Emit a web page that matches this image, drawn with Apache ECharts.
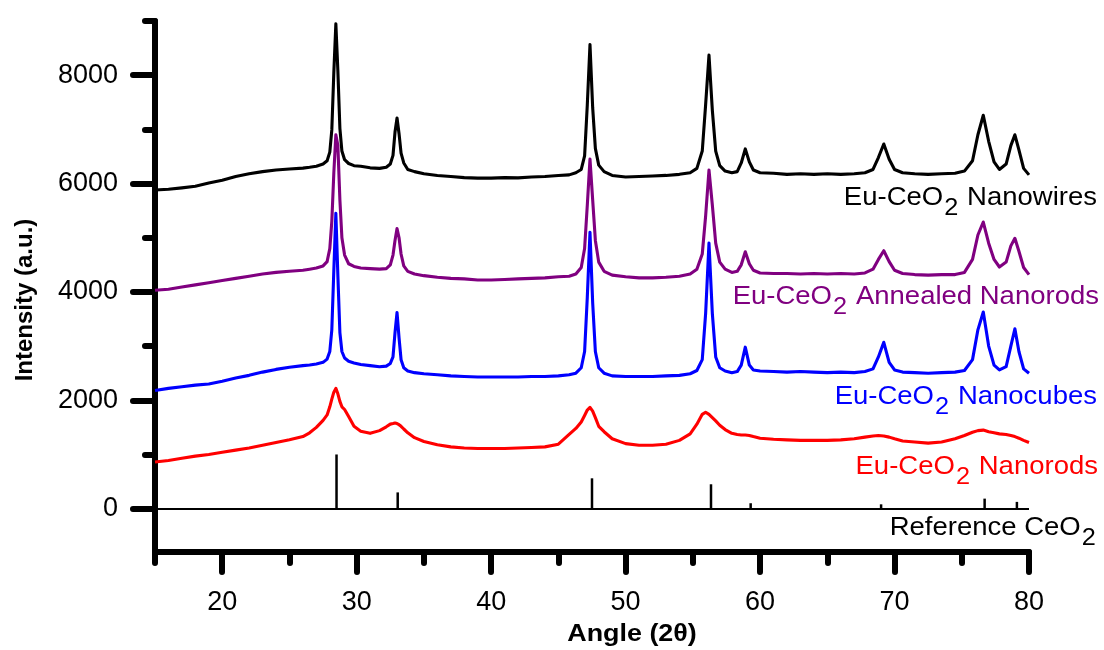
<!DOCTYPE html>
<html>
<head>
<meta charset="utf-8">
<script src="https://cdn.jsdelivr.net/npm/echarts@6/dist/echarts.min.js"></script>
<style>
html,body{margin:0;padding:0;background:#fff;}
#chart{width:1104px;height:650px;}
</style>
</head>
<body>
<div id="chart"></div>
<script>
// ---- data ----
const angles = [15,16,17,18,19,20,21,22,23,24,25,26,26.5,27,27.5,27.8,28.0,28.15,28.3,28.45,28.6,28.75,28.9,29.1,29.4,29.8,30.3,31,31.7,32.2,32.5,32.7,32.85,33.0,33.15,33.3,33.5,33.8,34.3,35,36,37,38,39,40,41,42,43,44,45,45.8,46.3,46.7,46.95,47.15,47.35,47.55,47.75,48.0,48.4,49,50,51,52,53,54,54.8,55.3,55.7,55.95,56.2,56.45,56.7,57.0,57.4,57.9,58.3,58.6,58.9,59.2,59.5,60,61,62,63,64,65,66,67,67.8,68.4,68.8,69.2,69.6,70.0,70.6,71.5,72.5,73.5,74.5,75.2,75.8,76.2,76.6,77.0,77.4,77.8,78.3,78.65,78.95,79.25,79.6,80];

const nanowires = [5880,5895,5920,5950,6010,6060,6130,6180,6220,6250,6270,6285,6300,6320,6360,6420,6580,6990,8050,8950,8080,7020,6600,6440,6370,6330,6320,6290,6280,6300,6360,6520,6950,7210,6920,6560,6380,6260,6220,6180,6150,6130,6110,6100,6100,6110,6105,6120,6130,6150,6160,6200,6260,6510,7450,8565,7400,6650,6340,6220,6150,6120,6130,6140,6150,6170,6200,6280,6600,7450,8370,7350,6600,6330,6230,6200,6220,6380,6640,6400,6250,6200,6190,6170,6180,6170,6180,6170,6180,6200,6260,6480,6730,6450,6260,6200,6180,6170,6180,6190,6230,6420,6900,7260,6780,6400,6260,6360,6700,6900,6620,6280,6160];

const annealed = [4030,4050,4090,4130,4170,4210,4250,4290,4330,4360,4380,4400,4420,4440,4480,4560,4800,5300,6200,6900,6700,5700,5000,4680,4520,4470,4440,4430,4420,4430,4500,4680,4950,5170,5000,4700,4480,4380,4330,4300,4270,4250,4240,4220,4220,4230,4240,4250,4260,4280,4290,4330,4450,4800,5600,6450,5700,4950,4550,4380,4310,4280,4260,4260,4270,4290,4330,4420,4700,5400,6250,5600,4900,4550,4420,4360,4380,4500,4740,4520,4400,4350,4340,4340,4330,4340,4330,4340,4330,4350,4420,4600,4760,4560,4400,4340,4320,4310,4320,4320,4360,4600,5050,5290,4900,4600,4460,4550,4850,4990,4750,4450,4320];

const nanocubes = [2180,2220,2250,2280,2300,2350,2410,2460,2520,2570,2610,2640,2650,2670,2700,2760,2900,3300,4400,5450,4300,3250,2900,2780,2720,2690,2660,2640,2620,2630,2680,2800,3250,3620,3150,2750,2600,2540,2510,2490,2470,2450,2440,2430,2430,2430,2430,2440,2440,2450,2470,2500,2600,2900,3900,5100,3800,2900,2600,2500,2450,2440,2440,2440,2450,2460,2490,2550,2750,3600,4900,3600,2800,2600,2540,2510,2530,2650,2980,2650,2560,2540,2530,2520,2530,2520,2510,2520,2510,2530,2580,2800,3070,2700,2560,2520,2510,2500,2510,2520,2550,2750,3300,3630,3000,2650,2560,2620,3000,3320,2900,2580,2500];

const nanorods = [860,890,930,970,1000,1040,1080,1120,1170,1220,1270,1330,1400,1500,1630,1730,1880,2020,2150,2220,2120,1980,1880,1830,1700,1520,1430,1390,1440,1510,1560,1570,1580,1570,1550,1520,1470,1400,1310,1240,1180,1140,1120,1110,1110,1110,1120,1130,1140,1190,1370,1480,1600,1720,1820,1870,1800,1680,1520,1420,1290,1200,1170,1170,1190,1260,1380,1560,1740,1780,1740,1680,1620,1540,1460,1390,1370,1360,1360,1350,1330,1300,1280,1270,1260,1260,1260,1270,1290,1320,1340,1350,1340,1320,1290,1250,1230,1210,1230,1290,1350,1410,1440,1450,1420,1400,1380,1370,1350,1330,1300,1260,1220];

const refAngles  = [28.5, 33.05, 47.5, 56.35, 59.3, 69.0, 76.7, 79.1];
const refHeights = [1000, 300, 560, 450, 100, 80, 185, 125];

const yMajorTicks = [0, 2000, 4000, 6000, 8000];
const yMinorTicks = [1000, 3000, 5000, 7000, 9000];
const xMajorTicks = [20, 30, 40, 50, 60, 70, 80];
const xMinorTicks = [15, 25, 35, 45, 55, 65, 75];

// ---- chart ----
const FONT = "'Liberation Sans', Arial, sans-serif";
const pair = v => angles.map((a, i) => [a, v[i]]);
const chart = echarts.init(document.getElementById('chart'), null, {renderer: 'canvas'});

const gridBox = {left: 155, right: 75, top: 21, bottom: 98};

function lineSeries(name, vals, color) {
  return {
    name, type: 'line', data: pair(vals), showSymbol: false, symbol: 'none',
    xAxisIndex: 0, yAxisIndex: 0,
    lineStyle: {color, width: 3.1, join: 'round'}, itemStyle: {color}, z: 3, silent: true
  };
}

function labelText(x, y, main, tail, color) {
  return {
    type: 'text', x, y, z: 10, silent: true, scaleX: 1.1, originX: 0,
    style: {
      text: '{a|' + main + '}{s|2}{a|' + tail + '}',
      align: 'right', verticalAlign: 'top',
      fill: color,
      rich: {
        a: {fontSize: 25, fontFamily: FONT, fill: color, verticalAlign: 'top', lineHeight: 26},
        s: {fontSize: 23, fontFamily: FONT, fill: color, verticalAlign: 'top', lineHeight: 26, padding: [11, 1, 0, 1]}
      }
    }
  };
}

const plain = v => String(v);

const option = {
  animation: false,
  backgroundColor: '#fff',
  grid: [
    Object.assign({}, gridBox),
    Object.assign({}, gridBox)
  ],
  xAxis: [
    {
      type: 'value', gridIndex: 0, min: 15, max: 80, position: 'bottom',
      axisLine: {show: true, onZero: false, lineStyle: {color: '#000', width: 6, cap: 'round'}},
      axisTick: {show: true, customValues: xMajorTicks, length: 20, inside: false,
                 lineStyle: {color: '#000', width: 6, cap: 'round'}},
      axisLabel: {show: true, customValues: xMajorTicks, formatter: plain, fontSize: 27, fontFamily: FONT, color: '#000', margin: 37},
      splitLine: {show: false}
    },
    {
      type: 'value', gridIndex: 1, min: 15, max: 80, position: 'bottom',
      axisLine: {show: false, onZero: false},
      axisTick: {show: true, customValues: xMinorTicks, length: 11, inside: false,
                 lineStyle: {color: '#000', width: 6, cap: 'round'}},
      axisLabel: {show: false},
      splitLine: {show: false}
    }
  ],
  yAxis: [
    {
      type: 'value', gridIndex: 0, min: -800, max: 9000, position: 'left',
      axisLine: {show: true, onZero: false, lineStyle: {color: '#000', width: 6, cap: 'round'}},
      axisTick: {show: true, customValues: yMajorTicks, length: 22, inside: false,
                 lineStyle: {color: '#000', width: 6, cap: 'round'}},
      axisLabel: {show: true, customValues: yMajorTicks, formatter: plain, fontSize: 27, fontFamily: FONT, color: '#000', margin: 37},
      splitLine: {show: false}
    },
    {
      type: 'value', gridIndex: 1, min: -800, max: 9000, position: 'left',
      axisLine: {show: false, onZero: false},
      axisTick: {show: true, customValues: yMinorTicks, length: 10, inside: false,
                 lineStyle: {color: '#000', width: 6, cap: 'round'}},
      axisLabel: {show: false},
      splitLine: {show: false}
    }
  ],
  series: [
    {
      name: 'Reference CeO2', type: 'custom', xAxisIndex: 0, yAxisIndex: 0, z: 2, silent: true,
      data: refAngles.map((a, i) => [a, refHeights[i]]),
      renderItem: function (params, api) {
        const p0 = api.coord([api.value(0), 0]);
        const p1 = api.coord([api.value(0), api.value(1)]);
        return {type: 'line', shape: {x1: p0[0], y1: p0[1], x2: p1[0], y2: p1[1]},
                style: {stroke: '#000', lineWidth: 2.5}};
      },
      markLine: {
        silent: true, symbol: 'none', animation: false,
        label: {show: false},
        lineStyle: {color: '#000', width: 2, type: 'solid'},
        data: [{yAxis: 0}]
      }
    },
    lineSeries('Eu-CeO2 Nanorods', nanorods, '#ff0000'),
    lineSeries('Eu-CeO2 Nanocubes', nanocubes, '#0000ff'),
    lineSeries('Eu-CeO2 Annealed Nanorods', annealed, '#800080'),
    lineSeries('Eu-CeO2 Nanowires', nanowires, '#000000')
  ],
  graphic: [
    labelText(1097, 186, 'Eu-CeO', ' Nanowires', '#000000'),
    labelText(1099, 285, 'Eu-CeO', ' Annealed Nanorods', '#800080'),
    labelText(1097, 385, 'Eu-CeO', ' Nanocubes', '#0000ff'),
    labelText(1098, 455, 'Eu-CeO', ' Nanorods', '#ff0000'),
    labelText(1097, 516, 'Reference CeO', '', '#000000'),
    {
      type: 'text', x: 25, y: 300, rotation: Math.PI / 2, silent: true,
      style: {text: 'Intensity (a.u.)', align: 'center', verticalAlign: 'middle',
              fontSize: 24, fontWeight: 'bold', fontFamily: FONT, fill: '#000'}
    },
    {
      type: 'text', x: 632, y: 634, silent: true, scaleX: 1.12,
      style: {text: 'Angle (2\u03b8)', align: 'center', verticalAlign: 'middle',
              fontSize: 24, fontWeight: 'bold', fontFamily: FONT, fill: '#000'}
    }
  ]
};
chart.setOption(option);
</script>
</body>
</html>
